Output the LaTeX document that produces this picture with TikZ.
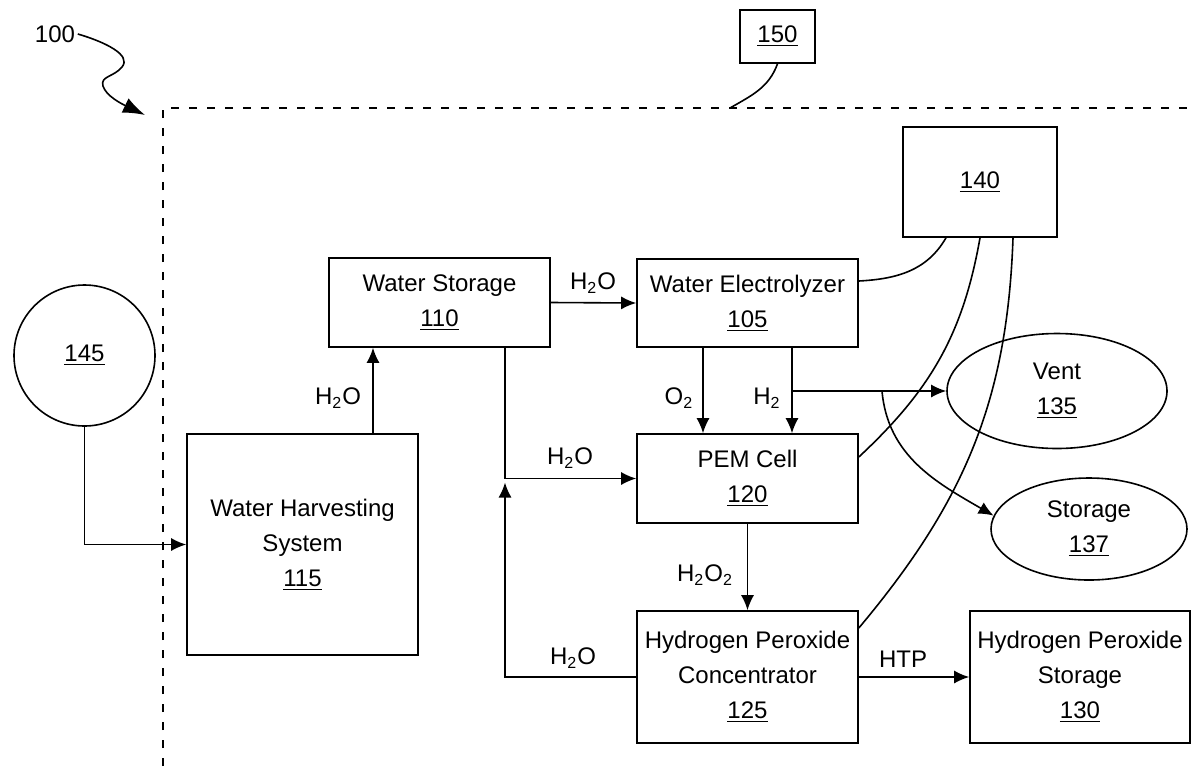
\documentclass[tikz,border=0pt]{standalone}
\usepackage{fontspec}
\setmainfont{Liberation Sans}
\usetikzlibrary{arrows.meta,shapes.geometric}

\begin{document}
\begin{tikzpicture}[
  x=0.5pt, y=-0.5pt,
  font=\fontsize{12}{17.5}\selectfont,
  line width=0.8pt,
  blk/.style={draw, align=center, inner sep=0},
  elp/.style={draw, ellipse, align=center, inner sep=0},
  opis/.style={inner sep=1pt},
  arr/.style={-{Latex[length=7.5pt,width=6.5pt]}},
  ramka/.style={dash pattern=on 4pt off 5pt},
]
\useasboundingbox (0,0) rectangle (1192,766);
% Granica systemu
\coordinate (bl) at (163,766);
\coordinate (tr) at (1192,108);
\coordinate (bnd) at (730,108);
\coordinate (tip) at (145,115);
\draw[ramka] (bl) |- (tr);
% Bloki
\node[blk, minimum width=110.5pt, minimum height=44.5pt] (ws) at (439.5,302.5) {Water Storage\\\underline{110}};
\node[blk, minimum width=110.5pt, minimum height=44pt] (we) at (747.5,303) {Water Electrolyzer\\\underline{105}};
\node[blk, minimum width=110.5pt, minimum height=44.5pt] (pem) at (747.5,478.5) {PEM Cell\\\underline{120}};
\node[blk, minimum width=110.5pt, minimum height=66pt] (hpc) at (747.5,677) {Hydrogen Peroxide\\Concentrator\\\underline{125}};
\node[blk, minimum width=110pt, minimum height=66pt] (hps) at (1080,677) {Hydrogen Peroxide\\Storage\\\underline{130}};
\node[blk, minimum width=115.5pt, minimum height=110.5pt] (whs) at (302.5,544.5) {Water Harvesting\\System\\\underline{115}};
\node[blk, minimum width=77pt, minimum height=55pt] (c140) at (980,182) {\underline{140}};
\node[blk, minimum width=37.5pt, minimum height=26.5pt] (c150) at (777.5,36.5) {\underline{150}};
\node[elp, minimum width=110pt, minimum height=57.5pt] (vent) at (1057,391) {Vent\\\underline{135}};
\node[elp, minimum width=98pt, minimum height=51pt] (sto) at (1089,529) {Storage\\\underline{137}};
\node[draw, circle, minimum size=70.5pt, inner sep=0] (c145) at (84.5,355.5) {\underline{145}};
\node[opis] (n100) at (55,34) {100};
% Opisy strumieni
\node[opis] (l1) at (593,283) {H\textsubscript{2}O};
\node[opis] (l2) at (338,398) {H\textsubscript{2}O};
\node[opis] (l3) at (679,398) {O\textsubscript{2}};
\node[opis] (l4) at (767,398) {H\textsubscript{2}};
\node[opis] (l5) at (570,458) {H\textsubscript{2}O};
\node[opis] (l6) at (705,575) {H\textsubscript{2}O\textsubscript{2}};
\node[opis] (l7) at (573,658) {H\textsubscript{2}O};
\node[opis] (l8) at (903,659) {HTP};
% Strzalki
\coordinate (hj) at ([xshift=22.25pt]we.south |- vent.west);
\coordinate (sj) at ([xshift=45pt]hj);
\coordinate (jn) at ([xshift=32.75pt]ws.south |- pem.west);
\draw[-{Latex[length=11pt,width=8pt]}] (n100.east) .. controls (105,42) and (132,55) .. (122,67)
  .. controls (114,77) and (100,76) .. (103,86)
  .. controls (106,96) and (122,104) .. (tip);
\draw (c150.south) to[out=-110,in=30] (bnd);
\draw[arr] (c145.south) |- (whs.west);
\draw[arr] ([xshift=35.25pt]whs.north) -- ([xshift=35.25pt]whs.north |- ws.south);
\draw[arr] (ws.east) -- (we.west);
\draw[arr] ([xshift=-22.25pt]we.south) -- ([xshift=-22.25pt]pem.north);
\draw[arr] ([xshift=22.25pt]we.south) -- ([xshift=22.25pt]pem.north);
\draw[arr] (hj) -- (vent.west);
\draw[arr] (sj) to[out=-85,in=150] (sto.172);
\draw[arr] ([xshift=32.75pt]ws.south) |- (pem.west);
\draw[arr] (hpc.west) -| ([yshift=-2pt]jn);
\draw[arr] (pem.south) -- (hpc.north);
\draw[arr] (hpc.east) -- (hps.west);
% Polaczenia z 140
\draw ([xshift=-17pt]c140.south) to[out=-120,in=3] ([yshift=11pt]we.east);
\draw (c140.south) to[out=-100,in=43] ([yshift=10.75pt]pem.east);
\draw ([xshift=16.5pt]c140.south) to[out=-92,in=50] ([yshift=24.5pt]hpc.east);
\end{tikzpicture}
\end{document}
